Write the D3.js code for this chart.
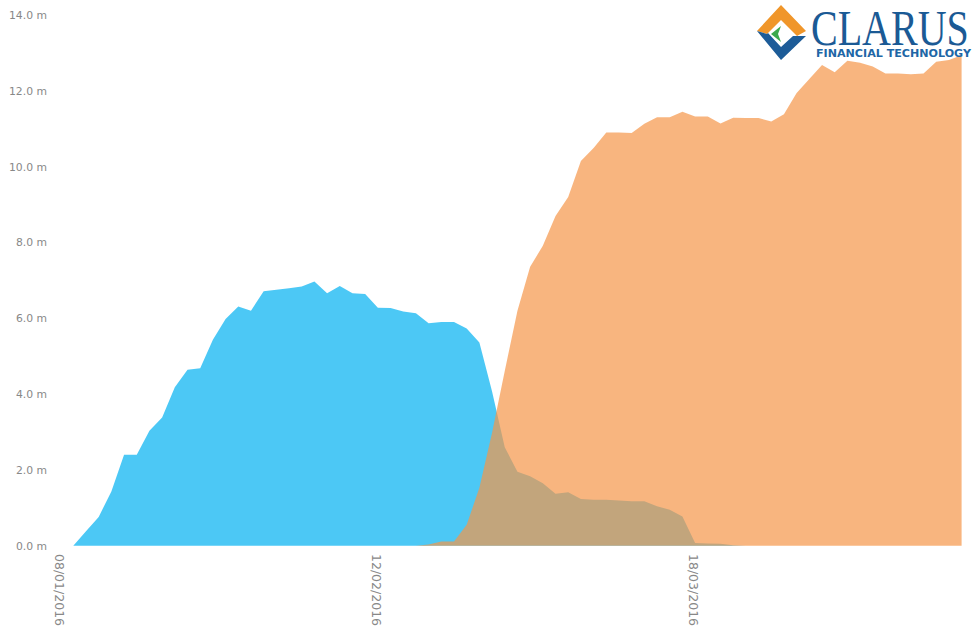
<!DOCTYPE html>
<html>
<head>
<meta charset="utf-8">
<script src="https://cdn.jsdelivr.net/npm/d3@7/dist/d3.min.js"></script>
<style>
  html, body { margin: 0; padding: 0; background: #fff; }
  svg { display: block; }
</style>
</head>
<body>
<svg id="chart" width="977" height="638"></svg>
<script>
// ---- Data ----
const dates = [
  "08/01/2016","11/01/2016","12/01/2016","13/01/2016","14/01/2016","15/01/2016",
  "18/01/2016","19/01/2016","20/01/2016","21/01/2016","22/01/2016",
  "25/01/2016","26/01/2016","27/01/2016","28/01/2016","29/01/2016",
  "01/02/2016","02/02/2016","03/02/2016","04/02/2016","05/02/2016",
  "08/02/2016","09/02/2016","10/02/2016","11/02/2016","12/02/2016",
  "15/02/2016","16/02/2016","17/02/2016","18/02/2016","19/02/2016",
  "22/02/2016","23/02/2016","24/02/2016","25/02/2016","26/02/2016",
  "29/02/2016","01/03/2016","02/03/2016","03/03/2016","04/03/2016",
  "07/03/2016","08/03/2016","09/03/2016","10/03/2016","11/03/2016",
  "14/03/2016","15/03/2016","16/03/2016","17/03/2016","18/03/2016",
  "21/03/2016","22/03/2016","23/03/2016","24/03/2016","25/03/2016",
  "28/03/2016","29/03/2016","30/03/2016","31/03/2016","01/04/2016",
  "04/04/2016","05/04/2016","06/04/2016","07/04/2016","08/04/2016",
  "11/04/2016","12/04/2016","13/04/2016","14/04/2016","15/04/2016"
];
// Series values in millions
const seriesBlue = [
  0, 0.38, 0.76, 1.43, 2.40, 2.40, 3.03, 3.38, 4.18, 4.64, 4.68,
  5.43, 5.98, 6.31, 6.20, 6.71, 6.75, 6.79, 6.84, 6.97, 6.66,
  6.85, 6.66, 6.64, 6.28, 6.27, 6.18, 6.13, 5.87, 5.90, 5.90,
  5.73, 5.36, 4.07, 2.60, 1.95, 1.83, 1.65, 1.37, 1.41, 1.23,
  1.21, 1.21, 1.19, 1.17, 1.17, 1.04, 0.95, 0.77, 0.07, 0.06,
  0.05, 0.01, 0, 0, 0, 0, 0, 0, 0, 0,
  0, 0, 0, 0, 0, 0, 0, 0, 0, 0
];
const seriesOrange = [
  0, 0, 0, 0, 0, 0, 0, 0, 0, 0, 0,
  0, 0, 0, 0, 0, 0, 0, 0, 0, 0,
  0, 0, 0, 0, 0, 0, 0, 0.03, 0.11, 0.11,
  0.55, 1.53, 2.98, 4.61, 6.20, 7.36, 7.91, 8.70, 9.20, 10.15,
  10.49, 10.90, 10.90, 10.89, 11.13, 11.30, 11.30, 11.45, 11.32, 11.32,
  11.14, 11.29, 11.28, 11.28, 11.19, 11.38, 11.94, 12.31, 12.68, 12.49,
  12.79, 12.74, 12.64, 12.46, 12.46, 12.44, 12.46, 12.77, 12.81, 12.94
];
const yTicks = [0, 2, 4, 6, 8, 10, 12, 14];
const xTickLabels = ["08/01/2016", "12/02/2016", "18/03/2016"];

// ---- Layout ----
const svg = d3.select("#chart");
const x = d3.scalePoint().domain(dates).range([73.3, 961.6]);
const y = d3.scaleLinear().domain([0, 14]).range([545.7, 15]);

const area = vals => d3.area()
  .x((d, i) => x(dates[i]))
  .y0(y(0))
  .y1(d => y(d))(vals);

svg.append("path")
  .attr("d", area(seriesBlue))
  .attr("fill", "#00B0F1")
  .attr("fill-opacity", 0.7);

svg.append("path")
  .attr("d", area(seriesOrange))
  .attr("fill", "#F59548")
  .attr("fill-opacity", 0.7);

// Y axis
const yAxis = d3.axisLeft(y).tickValues(yTicks)
  .tickFormat(v => d3.format(".1f")(v) + " m").tickSize(0).tickPadding(0);
const gy = svg.append("g").attr("transform", "translate(47,0)").call(yAxis);
gy.select(".domain").remove();
gy.selectAll("text")
  .attr("fill", "#888")
  .style("font-family", "'DejaVu Sans', sans-serif")
  .style("font-size", "10.8px");

// X axis (rotated labels)
const xAxis = d3.axisBottom(x).tickValues(xTickLabels).tickSize(0).tickPadding(0);
const gx = svg.append("g").attr("transform", "translate(0,554)").call(xAxis);
gx.select(".domain").remove();
gx.selectAll("text")
  .attr("fill", "#888")
  .attr("y", 0)
  .attr("dy", 0)
  .attr("transform", "translate(-19,0) rotate(90)")
  .attr("text-anchor", "start")
  .style("font-family", "'DejaVu Sans', sans-serif")
  .style("font-size", "12.5px");

// ---- Logo ----
const logo = svg.append("g");
logo.append("polygon")
  .attr("points", "757,31 781,5 806,31 797,36 781,20 767,34")
  .attr("fill", "#F0962A");
logo.append("polygon")
  .attr("points", "757,31 767,34 768,33 781,47 793,36 806,36 781,60")
  .attr("fill", "#1D5C98");
logo.append("polygon")
  .attr("points", "771,34 781,26 778,34 781,42")
  .attr("fill", "#3CA94B");
logo.append("text")
  .attr("transform", "translate(811,45) scale(1,1.25)")
  .attr("fill", "#1B5A95")
  .style("font-family", "'Liberation Serif', serif")
  .style("font-size", "40px")
  .text("CLARUS");
logo.append("text")
  .attr("x", 816).attr("y", 57)
  .attr("textLength", 155).attr("lengthAdjust", "spacingAndGlyphs")
  .attr("fill", "#2066A6")
  .style("font-family", "'DejaVu Sans', sans-serif")
  .style("font-weight", "bold")
  .style("font-size", "10px")
  .text("FINANCIAL TECHNOLOGY");
</script>
</body>
</html>
